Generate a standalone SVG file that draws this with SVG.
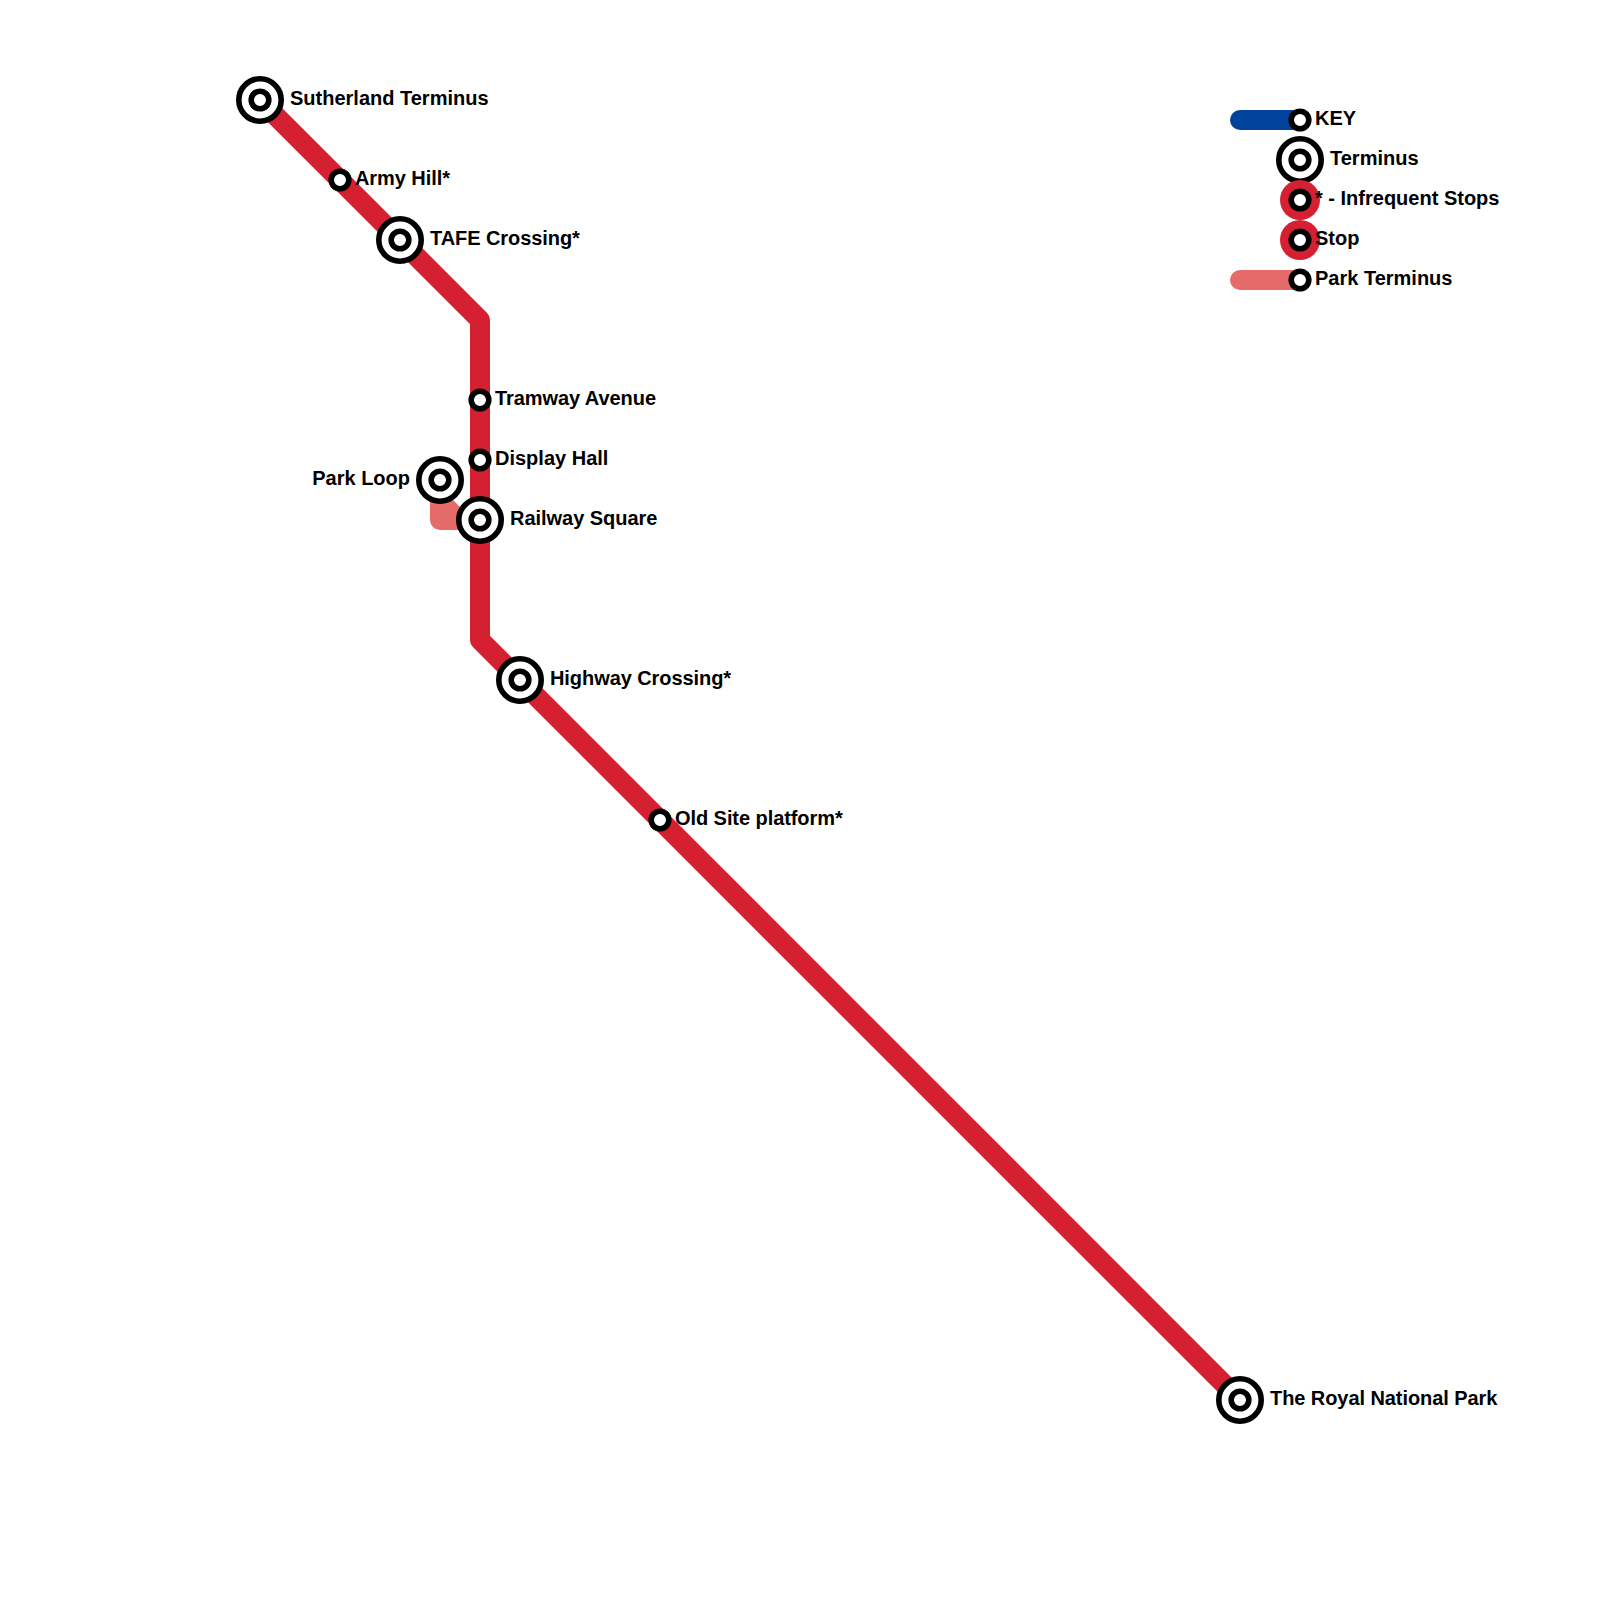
<svg xmlns="http://www.w3.org/2000/svg" width="1600" height="1600" viewBox="0 0 1600 1600">
<style>
.line{fill:none;stroke-width:20;stroke-linejoin:round}
.ring{fill:#fff;stroke:#000;stroke-width:5.6}
.lbl{font-family:"Liberation Sans",Arial,sans-serif;font-weight:700;font-size:20px;fill:#000}
.tight{letter-spacing:-0.07px}
.tight2{letter-spacing:-0.03px}
</style>
<defs>
<g id="stop"><circle class="ring" r="8.8"/></g>
<g id="term"><circle class="ring" r="21.2"/><circle class="ring" r="8.8"/></g>
</defs>
<rect width="1600" height="1600" fill="#fff"/>
<g id="connectors">
<path d="M450 497L475 522H450Z" fill="#e56a6a"/>
<path class="line" stroke="#e56a6a" d="M440 480V520H480"/>
<path class="line" stroke="#d42030" stroke-linejoin="miter" d="M260 100L480 320V640L1240 1400"/>
<path class="line" stroke="#00439c" stroke-linecap="round" d="M1240 120H1300"/>
<path class="line" stroke="#e56a6a" stroke-linecap="round" d="M1240 280H1300"/>
</g>
<g id="sutherland-terminus"><use href="#term" x="260" y="100"/><text class="lbl" x="290" y="105">Sutherland Terminus</text></g>
<g id="army-hill"><use href="#stop" x="340" y="180"/><text class="lbl tight" x="355" y="185">Army Hill*</text></g>
<g id="tafe-crossing"><use href="#term" x="400" y="240"/><text class="lbl tight" x="430" y="245">TAFE Crossing*</text></g>
<g id="tramway-avenue"><use href="#stop" x="480" y="400"/><text class="lbl tight" x="495" y="405">Tramway Avenue</text></g>
<g id="display-hall"><use href="#stop" x="480" y="460"/><text class="lbl" x="495" y="465">Display Hall</text></g>
<g id="park-loop"><use href="#term" x="440" y="480"/><text class="lbl" x="410" y="485" text-anchor="end">Park Loop</text></g>
<g id="railway-square"><use href="#term" x="480" y="520"/><text class="lbl tight2" x="510" y="525">Railway Square</text></g>
<g id="highway-crossing"><use href="#term" x="520" y="680"/><text class="lbl tight" x="550" y="685">Highway Crossing*</text></g>
<g id="old-site-platform"><use href="#stop" x="660" y="820"/><text class="lbl tight" x="675" y="825">Old Site platform*</text></g>
<g id="royal-national-park"><use href="#term" x="1240" y="1400"/><text class="lbl tight" x="1270" y="1405">The Royal National Park</text></g>
<g id="key"><use href="#stop" x="1300" y="120"/><text class="lbl" x="1315" y="125">KEY</text></g>
<g id="key-terminus"><use href="#term" x="1300" y="160"/><text class="lbl" x="1330" y="165">Terminus</text></g>
<g id="key-infrequent"><circle cx="1300" cy="200" r="20" fill="#d42030"/><use href="#stop" x="1300" y="200"/><text class="lbl" x="1315" y="205">* - Infrequent Stops</text></g>
<g id="key-stop"><circle cx="1300" cy="240" r="20" fill="#d42030"/><use href="#stop" x="1300" y="240"/><text class="lbl" x="1315" y="245">Stop</text></g>
<g id="key-park"><use href="#stop" x="1300" y="280"/><text class="lbl" x="1315" y="285">Park Terminus</text></g>
</svg>
